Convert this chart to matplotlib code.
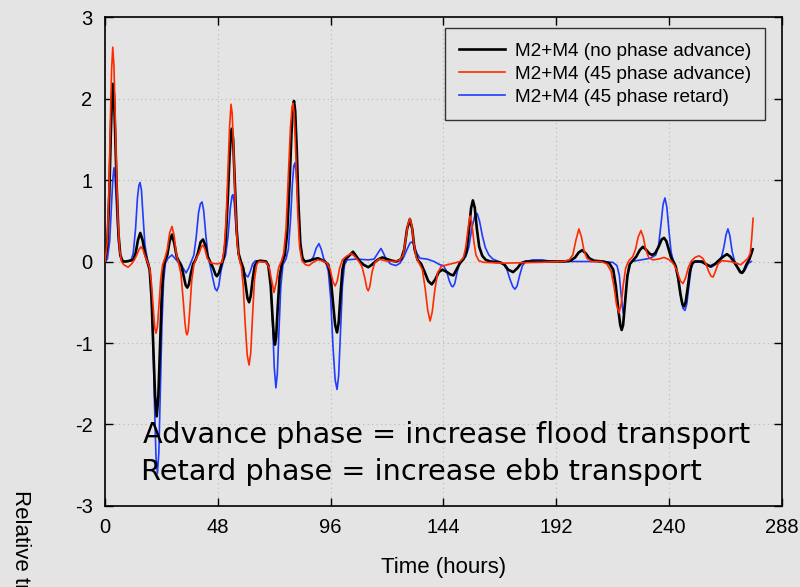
import matplotlib
matplotlib.use("Agg")
import matplotlib.pyplot as plt

# --- values: (time in hours, relative transport) ---
black_pts = [
    (0, 0), (1, 0.2), (1.8, 0.8), (2.5, 1.6), (3, 2.05), (3.4, 2.18), (3.8, 2.05), (4.3, 1.6), (5, 0.9),
    (5.7, 0.35), (6.5, 0.08), (7.5, 0.0), (9, 0), (12, 0.02), (13, 0.1), (14, 0.26), (15, 0.35), (16, 0.26),
    (17, 0.1), (18, 0.0), (19, -0.1), (19.8, -0.45), (20.6, -1.1), (21.3, -1.65), (22, -1.9), (22.7, -1.65),
    (23.4, -1.05), (24.1, -0.45), (24.8, -0.1), (25.6, 0.02), (26.5, 0.08), (27.5, 0.25), (28.5, 0.33),
    (29.5, 0.22), (30.5, 0.06), (31.5, 0), (32.5, -0.05), (33.5, -0.18), (34.3, -0.29), (35, -0.32),
    (35.7, -0.28), (36.5, -0.15), (37.5, -0.03), (38.5, 0.02), (39.5, 0.1), (40.7, 0.24), (41.7, 0.27),
    (42.7, 0.2), (43.7, 0.06), (45, -0.02), (46, -0.08), (47, -0.16), (47.6, -0.18), (48.5, -0.14),
    (49.5, -0.04), (50.5, 0.05), (51.3, 0.25), (52.2, 0.75), (53, 1.3), (53.6, 1.58), (54, 1.63),
    (54.5, 1.5), (55.2, 1.0), (56, 0.4), (56.8, 0.1), (57.8, 0.0), (58.8, -0.08), (59.8, -0.28),
    (60.6, -0.45), (61.3, -0.5), (62, -0.42), (62.8, -0.22), (63.7, -0.05), (64.8, 0.0), (66, 0.01),
    (68.5, 0), (69.5, -0.05), (70.5, -0.3), (71.3, -0.7), (71.9, -0.95), (72.3, -1.02), (72.8, -0.93),
    (73.5, -0.55), (74.3, -0.18), (75.3, -0.02), (76.5, 0.08), (77.5, 0.35), (78.5, 0.95), (79.3, 1.55),
    (79.9, 1.88), (80.4, 1.97), (80.9, 1.85), (81.6, 1.35), (82.3, 0.7), (83.1, 0.22), (84, 0.04), (85, 0),
    (87, 0.01), (89, 0.03), (90.6, 0.04), (92, 0.02), (93.5, 0), (95, -0.04), (96, -0.2), (97, -0.5),
    (97.9, -0.78), (98.7, -0.87), (99.4, -0.75), (100.2, -0.4), (101, -0.1), (102, 0.02), (103.5, 0.06),
    (105.5, 0.12), (107, 0.06), (108.5, 0), (110, -0.04), (112, -0.07), (113.5, -0.04), (115, 0),
    (116.5, 0.03), (118, 0.05), (120, 0.03), (122, 0.01), (124, 0), (126, 0.03), (127.3, 0.15),
    (128.5, 0.4), (129.7, 0.52), (130.7, 0.4), (131.7, 0.15), (133, 0.02), (134.5, -0.03), (136, -0.13),
    (137.5, -0.24), (139, -0.28), (140.5, -0.22), (142, -0.13), (143.5, -0.1), (145.5, -0.13),
    (147, -0.16), (148.2, -0.17), (149.5, -0.1), (151, -0.02), (152.5, 0.03), (153.8, 0.12),
    (154.8, 0.38), (155.7, 0.65), (156.5, 0.75), (157.3, 0.66), (158.2, 0.4), (159.2, 0.18),
    (160.5, 0.07), (162, 0.02), (164, 0), (168, -0.01), (170, -0.04), (171.5, -0.1), (173.6, -0.13),
    (175.5, -0.08), (177, -0.02), (179, 0), (195, 0), (198, 0.01), (200, 0.05), (201.5, 0.11),
    (203, 0.14), (204.5, 0.1), (206, 0.04), (208, 0.01), (212, 0), (214.5, -0.02), (216.2, -0.1),
    (217.3, -0.3), (218.4, -0.6), (219.2, -0.78), (219.8, -0.84), (220.4, -0.78), (221.2, -0.52),
    (222.2, -0.18), (223.3, -0.03), (224.5, 0.01), (226, 0.06), (227.5, 0.14), (228.8, 0.18),
    (230, 0.15), (231.5, 0.1), (232.7, 0.08), (234, 0.1), (235.5, 0.18), (236.8, 0.27), (237.8, 0.29),
    (238.8, 0.25), (239.8, 0.15), (240.8, 0.05), (241.8, 0.0), (242.8, -0.06), (243.8, -0.2),
    (244.8, -0.4), (245.6, -0.52), (246.3, -0.55), (247, -0.5), (247.9, -0.32), (248.8, -0.12),
    (249.8, -0.02), (251, 0), (254, 0), (255.5, -0.03), (257.5, -0.06), (259.5, -0.03), (261, 0.01),
    (263, 0.06), (264.6, 0.09), (266, 0.06), (267.5, 0.0), (269, -0.07), (270.2, -0.13), (270.9, -0.14),
    (271.8, -0.11), (272.8, -0.04), (274, 0.02), (275, 0.1), (275.5, 0.15),
]

red_pts = [
    (0, 0), (1, 0.25), (1.7, 0.9), (2.3, 1.75), (2.8, 2.35), (3.3, 2.63), (3.8, 2.4), (4.3, 1.85),
    (4.9, 1.1), (5.5, 0.5), (6.2, 0.15), (7, 0.0), (8, -0.04), (9.8, -0.07), (11.3, -0.03), (12.5, 0.02),
    (13.5, 0.08), (14.5, 0.15), (15.3, 0.18), (16.1, 0.15), (17, 0.07), (18, 0.0), (19, -0.08),
    (19.8, -0.28), (20.6, -0.6), (21.2, -0.82), (21.7, -0.88), (22.3, -0.8), (23, -0.52), (23.7, -0.22),
    (24.5, -0.04), (25.5, 0.04), (26.5, 0.15), (27.5, 0.35), (28.5, 0.43), (29.4, 0.32), (30.3, 0.1),
    (31.3, -0.02), (32.3, -0.15), (33.2, -0.45), (34, -0.75), (34.5, -0.87), (34.9, -0.9), (35.4, -0.85),
    (36.1, -0.58), (36.9, -0.23), (37.8, -0.04), (39, 0.05), (40, 0.1), (41, 0.18), (41.7, 0.2),
    (42.5, 0.15), (43.5, 0.04), (45, -0.02), (48, -0.03), (49.8, -0.01), (50.7, 0.15), (51.5, 0.5),
    (52.3, 1.1), (53, 1.65), (53.6, 1.93), (54.1, 1.82), (54.8, 1.3), (55.5, 0.65), (56.3, 0.2),
    (57.1, 0.03), (58, -0.06), (58.8, -0.3), (59.6, -0.75), (60.5, -1.15), (61.3, -1.27), (62, -1.12),
    (62.8, -0.65), (63.6, -0.22), (64.5, -0.04), (65.5, 0.0), (68.5, -0.01), (69.8, -0.07), (70.8, -0.22),
    (71.9, -0.38), (72.9, -0.25), (73.9, -0.07), (75, 0.0), (76, 0.1), (77, 0.4), (78, 1.05), (78.9, 1.65),
    (79.6, 1.9), (80, 1.94), (80.5, 1.8), (81.2, 1.3), (82, 0.6), (82.8, 0.17), (83.8, 0.01),
    (85.3, -0.04), (86.8, -0.05), (88.5, -0.01), (90.5, 0.02), (92.5, 0.01), (94.5, -0.02), (95.8, -0.1),
    (97, -0.25), (97.9, -0.3), (98.8, -0.24), (99.8, -0.08), (101, 0.02), (102.5, 0.06), (104.7, 0.1),
    (106.3, 0.06), (108, 0.0), (109.3, -0.06), (110.5, -0.2), (111.4, -0.33), (112, -0.36), (112.7, -0.3),
    (113.6, -0.13), (114.7, -0.02), (116.5, 0.03), (119, 0.01), (123, 0), (125.5, 0.02), (126.8, 0.08),
    (127.8, 0.25), (128.8, 0.45), (129.7, 0.53), (130.5, 0.44), (131.4, 0.22), (132.4, 0.05),
    (133.6, -0.02), (135, -0.1), (136.2, -0.33), (137.3, -0.6), (138.3, -0.73), (139.2, -0.62),
    (140.3, -0.35), (141.5, -0.14), (143, -0.06), (145.5, -0.04), (148.5, -0.02), (151, 0.0),
    (152.5, 0.05), (153.5, 0.18), (154.5, 0.42), (155.3, 0.56), (156, 0.48), (156.9, 0.25), (157.8, 0.08),
    (159, 0.01), (161, -0.01), (170, -0.02), (185, -0.01), (195, 0), (197.5, 0.02), (199, 0.08),
    (200.4, 0.27), (201.6, 0.4), (202.7, 0.3), (203.8, 0.13), (205, 0.04), (207, 0.0), (211, 0.0),
    (213.5, -0.03), (215.3, -0.12), (216.6, -0.32), (217.6, -0.53), (218.7, -0.63), (219.6, -0.52),
    (220.5, -0.28), (221.5, -0.08), (222.8, 0.01), (224.5, 0.06), (225.7, 0.15), (226.8, 0.3), (228, 0.38),
    (229, 0.3), (230, 0.15), (231.3, 0.05), (233, 0.02), (235.5, 0.03), (237.8, 0.05), (239.5, 0.03),
    (241, 0.0), (242.3, -0.05), (243.5, -0.13), (244.8, -0.24), (245.9, -0.27), (247, -0.2),
    (248.2, -0.07), (249.5, 0.01), (251, 0.05), (252.7, 0.07), (254.3, 0.04), (255.6, -0.03),
    (256.8, -0.12), (257.8, -0.18), (258.7, -0.19), (259.7, -0.12), (260.8, -0.03), (262.5, 0.01),
    (266, 0.0), (268.5, -0.02), (270.5, -0.04), (272, 0.0), (273.5, 0.04), (274.5, 0.1), (275.1, 0.28),
    (275.7, 0.53),
]

blue_pts = [
    (0, 0), (1, 0.03), (2, 0.25), (2.8, 0.7), (3.3, 1.0), (3.8, 1.15), (4.3, 1.02), (5, 0.62), (5.8, 0.22),
    (6.7, 0.04), (8, 0), (11, 0.01), (12, 0.1), (13, 0.4), (13.8, 0.78), (14.4, 0.93), (14.9, 0.97),
    (15.5, 0.88), (16.2, 0.55), (17, 0.2), (18, 0.03), (18.8, -0.05), (19.6, -0.3), (20.4, -0.95),
    (21.1, -1.8), (21.7, -2.4), (22.3, -2.6), (22.9, -2.35), (23.5, -1.65), (24.2, -0.8), (24.9, -0.25),
    (25.7, -0.02), (26.8, 0.04), (28.5, 0.08), (30, 0.03), (31.5, -0.02), (33, -0.07), (34.5, -0.14),
    (35.6, -0.08), (36.7, 0.0), (37.8, 0.08), (38.8, 0.3), (39.8, 0.6), (40.6, 0.71), (41.3, 0.73),
    (42, 0.62), (42.9, 0.32), (43.8, 0.08), (44.8, -0.06), (45.8, -0.2), (46.8, -0.33), (47.6, -0.36),
    (48.4, -0.3), (49.3, -0.12), (50.3, 0.0), (51.3, 0.08), (52.3, 0.3), (53.3, 0.65), (54, 0.8),
    (54.4, 0.82), (55, 0.72), (55.8, 0.38), (56.7, 0.1), (57.7, -0.03), (58.8, -0.1), (60, -0.17),
    (60.8, -0.19), (61.7, -0.13), (62.8, -0.03), (64, 0.01), (66, 0.0), (68.5, 0.0), (69.7, -0.05),
    (70.5, -0.25), (71.3, -0.75), (72, -1.3), (72.7, -1.55), (73.3, -1.38), (74, -0.85), (74.8, -0.3),
    (75.7, -0.04), (77, 0.03), (78, 0.15), (78.9, 0.5), (79.7, 0.95), (80.3, 1.17), (80.8, 1.21),
    (81.3, 1.1), (82, 0.72), (82.8, 0.3), (83.7, 0.07), (85, 0.0), (87.5, 0.01), (88.7, 0.06),
    (89.8, 0.16), (91, 0.22), (92, 0.15), (93, 0.04), (94, -0.02), (95, -0.12), (96, -0.45), (97, -1.05),
    (97.9, -1.45), (98.7, -1.57), (99.4, -1.4), (100.2, -0.85), (101, -0.3), (101.9, -0.04), (103, 0.02),
    (107, 0.03), (112, 0.02), (114.5, 0.03), (116, 0.1), (117.4, 0.16), (118.5, 0.1), (119.7, 0.02),
    (121.5, -0.03), (123.8, -0.05), (125.5, -0.02), (127, 0.05), (128.5, 0.15), (129.8, 0.23),
    (130.6, 0.24), (131.5, 0.2), (132.7, 0.1), (134, 0.04), (137, 0.03), (140, 0.0), (142.5, -0.04),
    (144, -0.05), (145.3, -0.12), (146.5, -0.24), (147.4, -0.3), (148, -0.31), (148.8, -0.27),
    (149.8, -0.13), (150.8, -0.02), (152, 0.02), (153.5, 0.06), (154.8, 0.18), (156, 0.4), (157.3, 0.56),
    (158.3, 0.59), (159.3, 0.5), (160.5, 0.32), (161.8, 0.17), (163.3, 0.08), (165, 0.03), (167.5, 0.0),
    (169.5, -0.03), (171, -0.1), (172.3, -0.22), (173.5, -0.31), (174.4, -0.34), (175.3, -0.3),
    (176.4, -0.17), (177.6, -0.05), (179, 0.0), (182, 0.02), (186, 0.02), (190, 0.0), (210, 0.0),
    (216, -0.01), (217.8, -0.05), (218.8, -0.17), (219.6, -0.42), (220.4, -0.63), (221.1, -0.55),
    (221.9, -0.28), (222.8, -0.06), (224, 0.0), (228, 0.02), (232, 0.04), (234.3, 0.08), (235.5, 0.2),
    (236.5, 0.45), (237.4, 0.7), (238.2, 0.78), (239, 0.67), (239.9, 0.38), (240.8, 0.12), (241.8, 0.0),
    (242.8, -0.07), (243.8, -0.2), (244.8, -0.4), (245.8, -0.57), (246.7, -0.6), (247.5, -0.52),
    (248.4, -0.3), (249.4, -0.08), (250.5, 0.0), (252.5, 0.0), (254.5, -0.02), (256.5, -0.05),
    (257.9, -0.07), (259.5, -0.04), (261, 0.0), (262.3, 0.06), (263.3, 0.18), (264.2, 0.33), (265, 0.4),
    (265.8, 0.32), (266.8, 0.12), (267.8, 0.01), (269, -0.06), (270.3, -0.12), (271.4, -0.14),
    (272.5, -0.09), (273.7, -0.02), (275, 0.0),
]

t_black, v_black = zip(*black_pts)
t_red, v_red = zip(*red_pts)
t_blue, v_blue = zip(*blue_pts)

labels = ["M2+M4 (no phase advance)", "M2+M4 (45 phase advance)", "M2+M4 (45 phase retard)"]
xticks = [0, 48, 96, 144, 192, 240, 288]
yticks = [-3, -2, -1, 0, 1, 2, 3]
notes = ["Advance phase = increase flood transport", "Retard phase = increase ebb transport"]

bg = "#e4e4e4"
plt.rcParams["font.family"] = ["Liberation Sans", "DejaVu Sans"]
plt.rcParams["axes.unicode_minus"] = False

fig = plt.figure(figsize=(8, 5.87), dpi=100, facecolor=bg)
ax = fig.add_axes([0.13125, 0.138, 0.84625, 0.833])
ax.set_facecolor(bg)

ax.plot(t_black, v_black, color="black", lw=1.9, label=labels[0], zorder=3)
ax.plot(t_red, v_red, color="#ff2a00", lw=1.2, label=labels[1], zorder=4)
ax.plot(t_blue, v_blue, color="#1f3cff", lw=1.2, label=labels[2], zorder=2)

ax.set_xlim(0, 288)
ax.set_ylim(-3, 3)
ax.set_xticks(xticks)
ax.set_yticks(yticks)
ax.tick_params(direction="in", length=6, width=1, labelsize=14.5, top=True, right=True, pad=9)
ax.grid(True, linestyle=(0, (1, 3)), color="#b8b8b8", lw=0.8)
for s in ax.spines.values():
    s.set_linewidth(1.2)

ax.set_xlabel("Time (hours)", fontsize=16, labelpad=14)
fig.text(20 / 800, (587 - 490) / 587, "Relative transport", rotation=-90,
         ha="center", va="top", fontsize=16)

leg = ax.legend(loc="upper right", bbox_to_anchor=(0.975, 0.9775), borderaxespad=0,
                fontsize=13.7, frameon=True, fancybox=False, facecolor=bg,
                edgecolor="#333333", framealpha=1, handlelength=2.4, handletextpad=0.5,
                borderpad=0.75, labelspacing=0.3)
leg.get_frame().set_linewidth(1)

ax.text(16.2, -2.23, notes[0], fontsize=20.7, family="DejaVu Sans",
        va="baseline", ha="left", zorder=5)
ax.text(15.3, -2.68, notes[1], fontsize=20.7, family="DejaVu Sans",
        va="baseline", ha="left", zorder=5)

fig.savefig("out.png", dpi=100, facecolor=bg)
